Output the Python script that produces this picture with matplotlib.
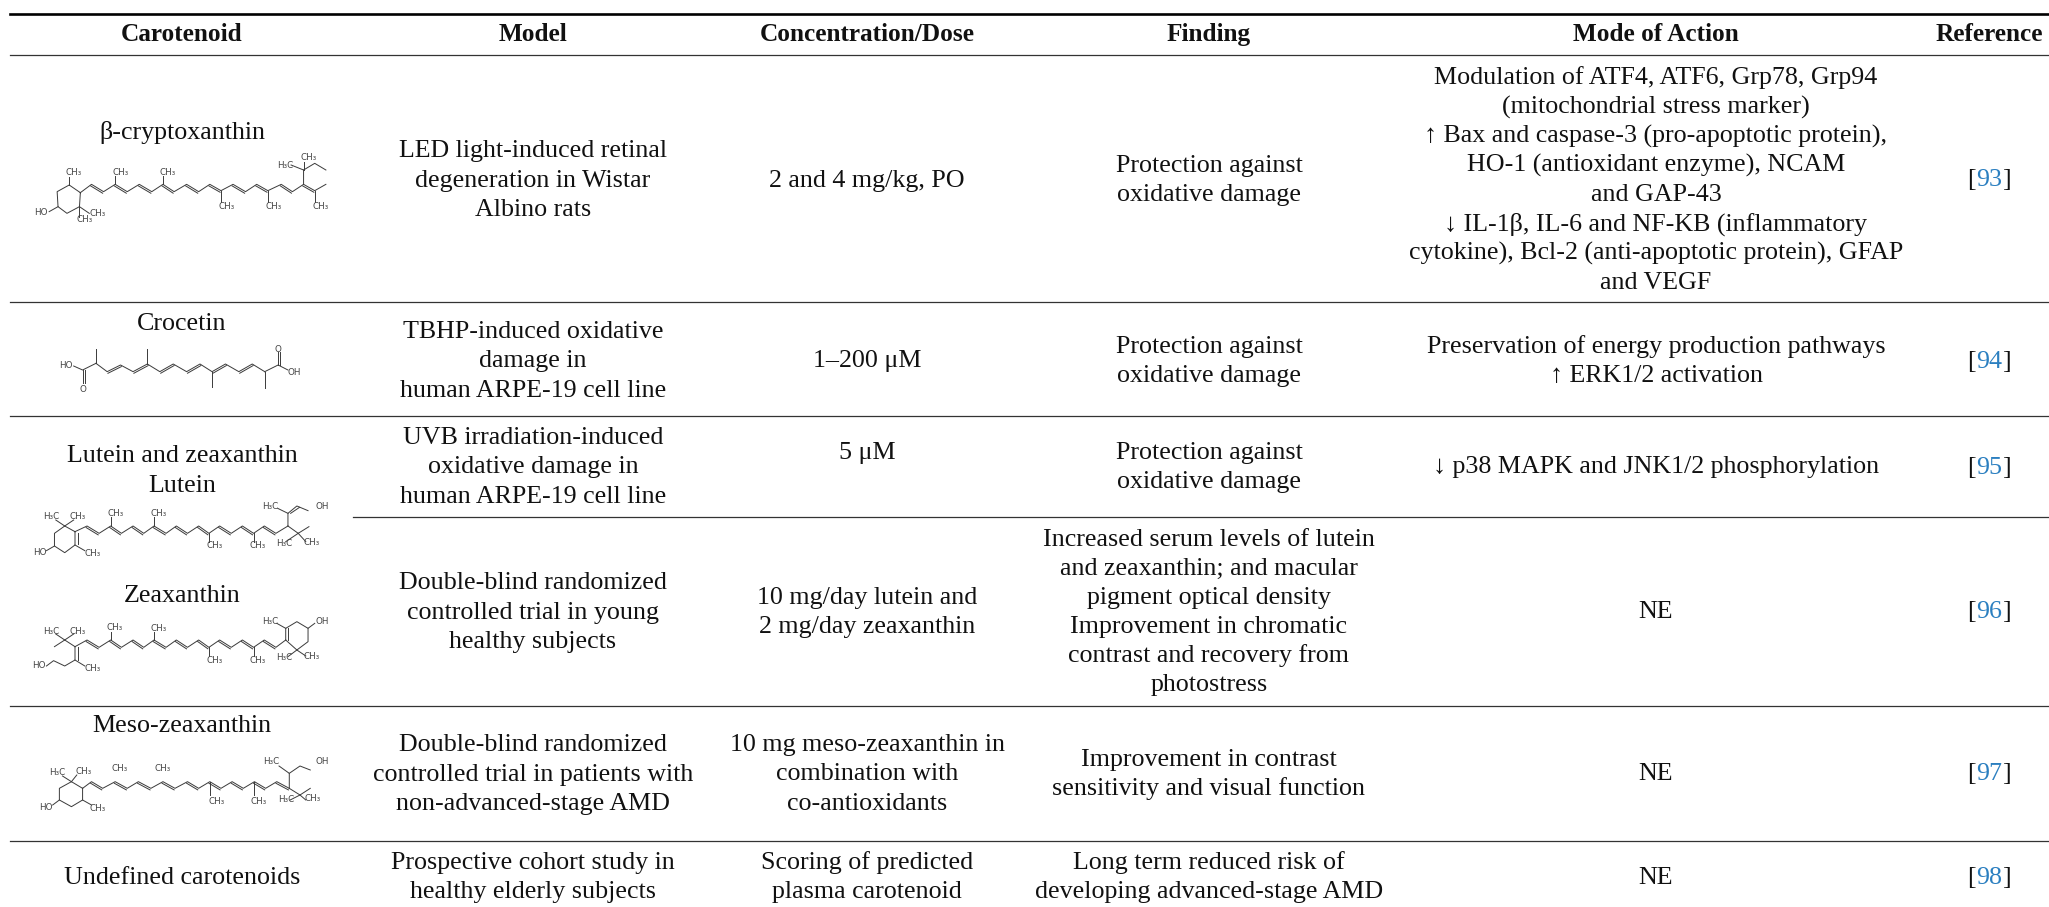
import matplotlib
matplotlib.use("Agg")
import matplotlib.pyplot as plt
import numpy as np

plt.rcParams['font.family'] = ['Liberation Serif', 'DejaVu Serif']

headers = ["Carotenoid", "Model", "Concentration/Dose", "Finding", "Mode of Action", "Reference"]

carotenoids = ["\u03b2-cryptoxanthin", "Crocetin", "Lutein and zeaxanthin", "Lutein", "Zeaxanthin",
               "Meso-zeaxanthin", "Undefined carotenoids"]

models = [
    ["LED light-induced retinal", "degeneration in Wistar", "Albino rats"],
    ["TBHP-induced oxidative", "damage in", "human ARPE-19 cell line"],
    ["UVB irradiation-induced", "oxidative damage in", "human ARPE-19 cell line"],
    ["Double-blind randomized", "controlled trial in young", "healthy subjects"],
    ["Double-blind randomized", "controlled trial in patients with", "non-advanced-stage AMD"],
    ["Prospective cohort study in", "healthy elderly subjects"],
]
doses = [
    ["2 and 4 mg/kg, PO"],
    ["1\u2013200 \u03bcM"],
    ["5 \u03bcM"],
    ["10 mg/day lutein and", "2 mg/day zeaxanthin"],
    ["10 mg meso-zeaxanthin in", "combination with", "co-antioxidants"],
    ["Scoring of predicted", "plasma carotenoid"],
]
findings = [
    ["Protection against", "oxidative damage"],
    ["Protection against", "oxidative damage"],
    ["Protection against", "oxidative damage"],
    ["Increased serum levels of lutein", "and zeaxanthin; and macular", "pigment optical density",
     "Improvement in chromatic", "contrast and recovery from", "photostress"],
    ["Improvement in contrast", "sensitivity and visual function"],
    ["Long term reduced risk of", "developing advanced-stage AMD"],
]
modes = [
    ["Modulation of ATF4, ATF6, Grp78, Grp94", "(mitochondrial stress marker)",
     "\u2191 Bax and caspase-3 (pro-apoptotic protein),", "HO-1 (antioxidant enzyme), NCAM", "and GAP-43",
     "\u2193 IL-1\u03b2, IL-6 and NF-KB (inflammatory", "cytokine), Bcl-2 (anti-apoptotic protein), GFAP", "and VEGF"],
    ["Preservation of energy production pathways", "\u2191 ERK1/2 activation"],
    ["\u2193 p38 MAPK and JNK1/2 phosphorylation"],
    ["NE"],
    ["NE"],
    ["NE"],
]
refs = ["93", "94", "95", "96", "97", "98"]

# layout in pixels of the 2049x907 picture
col_x = [182, 533, 867, 1209, 1656, 1989]
row_mid = [179, 360, 466, 611, 773, 876]
dose_mid = [179, 359, 452, 611, 773, 876]
name_y = [132, 323, 455, 484, 595, 725, 876]
rule_y = [302, 416, 706, 841]
FS = 18.7
FS_HEAD = 18.2
PITCH = 29.2
INK = "#111111"

# skeletal formulas, coordinates taken from the zoomed crops
crypto_chain = [(180, 578), (205, 553), (232, 575), (258, 553), (285, 575), (312, 553), (340, 575), (365, 553),
                (390, 575), (418, 553), (445, 575), (470, 553), (495, 572), (522, 553), (550, 575), (575, 553),
                (600, 572), (630, 553), (655, 575), (680, 553), (705, 572), (730, 553)]
crypto_bonds = [[(180, 578), (155, 555), (128, 575), (130, 620), (150, 640), (178, 620), (180, 578)],
                [(155, 555), (155, 530)], [(130, 620), (110, 635)], [(178, 620), (200, 640)], [(178, 620), (178, 650)],
                [(258, 553), (258, 528)], [(365, 553), (365, 528)], [(495, 572), (495, 605)], [(600, 572), (600, 605)],
                [(705, 572), (705, 605)], [(680, 553), (680, 510), (705, 490), (730, 510)],
                [(680, 510), (652, 495)], [(680, 510), (680, 485)]]
crypto_labels = [("CH\u2083", 165, 518), ("CH\u2083", 270, 518), ("CH\u2083", 375, 518), ("HO", 92, 638),
                 ("CH\u2083", 218, 642), ("CH\u2083", 190, 660), ("CH\u2083", 508, 620), ("CH\u2083", 612, 620),
                 ("CH\u2083", 718, 620), ("H\u2083C", 640, 495), ("CH\u2083", 692, 473)]

crocetin_chain = [(215, 1090), (240, 1115), (270, 1095), (298, 1115), (330, 1092), (358, 1115), (388, 1092),
                  (418, 1115), (448, 1092), (475, 1115), (505, 1092), (535, 1115), (565, 1092), (593, 1115)]
crocetin_bonds = [[(215, 1090), (185, 1110), (165, 1098)], [(185, 1110), (185, 1150)], [(190, 1110), (190, 1150)],
                  [(593, 1115), (623, 1095), (645, 1110)], [(623, 1095), (623, 1055)], [(628, 1095), (628, 1055)],
                  [(215, 1090), (215, 1048)], [(330, 1092), (330, 1048)], [(475, 1115), (475, 1160)],
                  [(593, 1115), (593, 1165)]]
crocetin_labels = [("HO", 147, 1097), ("O", 185, 1167), ("O", 623, 1048), ("OH", 660, 1118)]

lutein_chain = [(168, 335), (195, 318), (222, 340), (248, 318), (272, 340), (298, 318), (322, 340), (345, 318),
                (372, 340), (395, 318), (420, 340), (445, 318), (468, 340), (492, 318), (518, 340), (543, 318),
                (568, 340), (592, 318), (618, 340), (645, 318)]
lutein_bonds = [[(168, 335), (145, 318), (122, 340), (122, 378), (145, 398), (168, 375), (168, 335)],
                [(174, 340), (174, 372)], [(145, 318), (125, 300)], [(145, 318), (165, 300)], [(168, 375), (190, 392)],
                [(122, 378), (104, 392)], [(248, 318), (248, 292)], [(345, 318), (345, 292)], [(468, 340), (468, 365)],
                [(568, 340), (568, 365)], [(645, 318), (645, 280), (665, 258), (690, 272)], [(651, 280), (671, 262)],
                [(645, 280), (622, 265)], [(645, 318), (668, 340), (692, 320)], [(668, 340), (640, 365)],
                [(668, 340), (685, 365)]]
lutein_labels = [("H\u2083C", 115, 290), ("CH\u2083", 175, 290), ("CH\u2083", 258, 280), ("CH\u2083", 355, 282),
                 ("HO", 90, 397), ("CH\u2083", 208, 400), ("CH\u2083", 480, 377), ("CH\u2083", 578, 377),
                 ("H\u2083C", 636, 370), ("CH\u2083", 698, 368), ("H\u2083C", 605, 260), ("OH", 722, 260)]

zea_chain = [(168, 680), (195, 660), (222, 682), (248, 660), (272, 682), (298, 660), (322, 682), (345, 660),
             (372, 682), (395, 660), (420, 682), (445, 660), (468, 682), (492, 660), (518, 682), (543, 660),
             (568, 682), (592, 660), (618, 682), (640, 660)]
zea_bonds = [[(168, 680), (168, 720), (145, 738), (120, 722), (104, 738)], [(174, 680), (174, 720)],
             [(168, 720), (190, 738)], [(168, 680), (145, 660), (122, 680)], [(145, 660), (125, 642)],
             [(145, 660), (165, 642)], [(248, 660), (248, 635)], [(345, 660), (345, 635)], [(468, 682), (468, 708)],
             [(568, 682), (568, 708)], [(640, 660), (640, 625), (665, 605), (690, 625), (705, 610)],
             [(646, 660), (646, 625)], [(640, 625), (620, 610)], [(690, 625), (690, 665), (665, 690), (640, 660)],
             [(665, 690), (645, 710)], [(665, 690), (685, 708)]]
zea_labels = [("H\u2083C", 115, 633), ("CH\u2083", 175, 633), ("CH\u2083", 256, 622), ("CH\u2083", 355, 625),
              ("HO", 88, 738), ("CH\u2083", 208, 745), ("CH\u2083", 480, 722), ("CH\u2083", 578, 722),
              ("H\u2083C", 636, 712), ("CH\u2083", 698, 710), ("H\u2083C", 605, 603), ("OH", 722, 603)]

meso_chain = [(185, 1105), (205, 1085), (230, 1105), (258, 1085), (285, 1105), (310, 1085), (338, 1105), (365, 1085),
              (392, 1105), (420, 1085), (445, 1105), (470, 1085), (495, 1105), (520, 1085), (545, 1105), (570, 1085),
              (595, 1105), (620, 1085), (648, 1105)]
meso_bonds = [[(185, 1105), (160, 1085), (133, 1105), (133, 1140), (160, 1160), (185, 1140), (185, 1105)],
              [(160, 1085), (140, 1068)], [(160, 1085), (172, 1065)], [(133, 1140), (118, 1155)], [(185, 1140), (205, 1155)],
              [(470, 1085), (470, 1125)], [(570, 1085), (570, 1125)], [(648, 1105), (648, 1060), (625, 1038)],
              [(648, 1060), (672, 1038), (695, 1050)], [(648, 1105), (672, 1125), (695, 1105)],
              [(672, 1125), (650, 1140)], [(672, 1125), (685, 1140)]]
meso_labels = [("H\u2083C", 128, 1057), ("CH\u2083", 188, 1055), ("CH\u2083", 268, 1045), ("CH\u2083", 365, 1045),
               ("HO", 103, 1162), ("CH\u2083", 218, 1165), ("CH\u2083", 485, 1143), ("CH\u2083", 580, 1143),
               ("H\u2083C", 642, 1138), ("CH\u2083", 700, 1135), ("H\u2083C", 607, 1025), ("OH", 722, 1025)]


def px(x, y, y0):
    return x / 2.24, y0 + y / 3


def draw_molecule(ax, chain, bonds, labels, y0):
    pts = np.array([px(x, y, y0) for x, y in chain])
    ax.plot(pts[:, 0], pts[:, 1], color="#3a3a3a", lw=0.7, zorder=2)
    # every other chain bond is a double bond
    for i in range(1, len(pts) - 1, 2):
        a, b = pts[i], pts[i + 1]
        d = b - a
        n = np.array([-d[1], d[0]]) / np.hypot(*d) * 1.8
        if n[1] < 0:
            n = -n
        ax.plot([a[0] + n[0], b[0] + n[0]], [a[1] + n[1], b[1] + n[1]], color="#3a3a3a", lw=0.7, zorder=2)
    for bond in bonds:
        p = np.array([px(x, y, y0) for x, y in bond])
        ax.plot(p[:, 0], p[:, 1], color="#3a3a3a", lw=0.7, zorder=2)
    for s, x, y in labels:
        lx, ly = px(x, y, y0)
        ax.text(lx, ly, s, fontsize=6.3, color="#444444", ha="center", va="center", family=["DejaVu Sans"], zorder=3)


def draw_cell(ax, x, mid, lines, **kw):
    top = mid - (len(lines) - 1) * PITCH / 2
    for i, line in enumerate(lines):
        ax.text(x, top + i * PITCH + 7.5, line, fontsize=FS, color=INK, ha="center", va="baseline", **kw)


fig = plt.figure(figsize=(20.49, 9.07), dpi=100)
ax = fig.add_axes([0, 0, 1, 1])
ax.set_xlim(0, 2049)
ax.set_ylim(907, 0)
ax.axis("off")

# rules
ax.plot([10, 2049], [13.5, 13.5], color="black", lw=1.9)
ax.plot([10, 2049], [55, 55], color="#333333", lw=0.9)
for y in rule_y:
    ax.plot([10, 2049], [y, y], color="#333333", lw=0.9)
ax.plot([353, 2049], [517, 517], color="#333333", lw=0.9)

for x, h in zip(col_x, headers):
    ax.text(x, 41, h, fontsize=FS_HEAD, fontweight="bold", color=INK, ha="center", va="baseline")

for name, y in zip(carotenoids, name_y):
    draw_cell(ax, col_x[0], y, [name])

for i in range(len(models)):
    draw_cell(ax, col_x[1], row_mid[i], models[i])
    draw_cell(ax, col_x[2], dose_mid[i], doses[i])
    draw_cell(ax, col_x[3], row_mid[i], findings[i])
    draw_cell(ax, col_x[4], row_mid[i], modes[i])

# reference numbers: black brackets, blue number
fig.canvas.draw()
rend = fig.canvas.get_renderer()
for i, r in enumerate(refs):
    y = row_mid[i] + 7.5
    num = ax.text(col_x[5], y, r, fontsize=FS, color="#2b7fc0", ha="center", va="baseline")
    w = num.get_window_extent(rend).width
    ax.text(col_x[5] - w / 2, y, "[", fontsize=FS, color=INK, ha="right", va="baseline")
    ax.text(col_x[5] + w / 2, y, "]", fontsize=FS, color=INK, ha="left", va="baseline")

draw_molecule(ax, crypto_chain, crypto_bonds, crypto_labels, 0)
draw_molecule(ax, crocetin_chain, crocetin_bonds, crocetin_labels, 0)
draw_molecule(ax, lutein_chain, lutein_bonds, lutein_labels, 420)
draw_molecule(ax, zea_chain, zea_bonds, zea_labels, 420)
draw_molecule(ax, meso_chain, meso_bonds, meso_labels, 420)

plt.savefig("out.png", dpi=100)
